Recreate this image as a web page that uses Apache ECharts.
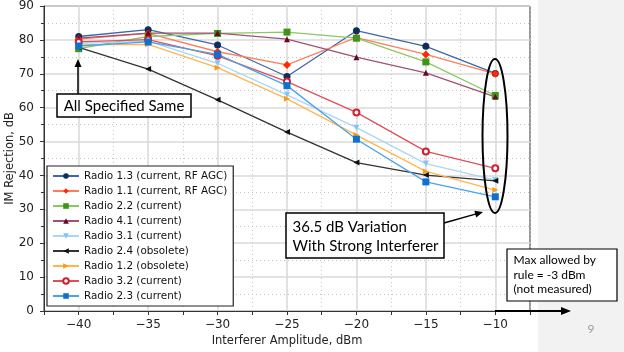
<!DOCTYPE html>
<html>
<head>
<meta charset="utf-8">
<script src="https://cdn.jsdelivr.net/npm/echarts@6/dist/echarts.min.js"></script>
<style>
html,body{margin:0;padding:0;background:#fff;}
#c{width:624px;height:352px;}
</style>
</head>
<body>
<div id="c"></div>
<script>
// ---- data ----
const xValues = [-40, -35, -30, -25, -20, -15, -10];
const yTicks = [0, 10, 20, 30, 40, 50, 60, 70, 80, 90];
const seriesNames = [
  'Radio 1.3 (current, RF AGC)',
  'Radio 1.1 (current, RF AGC)',
  'Radio 2.2 (current)',
  'Radio 4.1 (current)',
  'Radio 3.1 (current)',
  'Radio 2.4 (obsolete)',
  'Radio 1.2 (obsolete)',
  'Radio 3.2 (current)',
  'Radio 2.3 (current)'
];
const r13 = [81.0, 83.0, 78.5, 69.2, 82.7, 78.1, 70.1];
const r11 = [80.2, 81.9, 76.5, 72.6, 80.7, 75.7, 70.0];
const r22 = [77.4, 81.0, 81.9, 82.3, 80.5, 73.5, 63.6];
const r41 = [80.5, 82.0, 82.0, 80.2, 74.9, 70.3, 63.2];
const r31 = [79.0, 79.6, 73.1, 63.8, 54.1, 43.5, 38.6];
const r24 = [77.8, 71.4, 62.3, 52.8, 43.8, 40.1, 38.4];
const r12 = [78.5, 78.7, 71.8, 62.6, 51.9, 41.2, 35.7];
const r32 = [79.4, 80.1, 75.3, 67.7, 58.6, 47.1, 42.1];
const r23 = [78.2, 79.4, 75.7, 66.5, 50.7, 38.1, 33.7];
const allValues = [r13, r11, r22, r41, r31, r24, r12, r32, r23];

// ---- styles ----
const styles = [
  {line: '#3f67a6', mark: '#0f2c5c', symbol: 'circle', size: 7, rot: 0},
  {line: '#ff7d5a', mark: '#ff2a00', symbol: 'diamond', size: 8, rot: 0},
  {line: '#8cc862', mark: '#3d9417', symbol: 'rect', size: 7, rot: 0},
  {line: '#a05272', mark: '#66091f', symbol: 'triangle', size: 6, rot: 0},
  {line: '#a9d5f7', mark: '#85c3f2', symbol: 'triangle', size: 6, rot: 180},
  {line: '#333333', mark: '#111111', symbol: 'triangle', size: 6, rot: 90},
  {line: '#ffb64f', mark: '#ff9a10', symbol: 'triangle', size: 6, rot: -90},
  {line: '#e0505a', mark: '#d0202e', symbol: 'emptyCircle', size: 6, rot: 0},
  {line: '#4aa3ea', mark: '#1070d0', symbol: 'rect', size: 7, rot: 0}
];

const chart = echarts.init(document.getElementById('c'), null, {renderer: 'canvas'});
const minus = s => String(s).replace('-', '\u2212');

const series = [{
  type: 'line', name: '_grid', data: [], z: 1, silent: true,
  markLine: {
    z: 1, silent: true, symbol: 'none', label: {show: false},
    lineStyle: {color: '#dadada', type: 'solid', width: 1.5},
    data: xValues.map(v => ({xAxis: v}))
  }
}];
seriesNames.forEach((n, i) => {
  const s = styles[i];
  const empty = s.symbol === 'emptyCircle';
  series.push({
    type: 'line', name: n, z: 10,
    data: xValues.map((x, j) => [x, allValues[i][j]]),
    symbol: s.symbol, symbolSize: s.size, symbolRotate: s.rot,
    lineStyle: {color: s.line, width: 1.3},
    itemStyle: empty ? {color: s.mark, borderColor: s.mark, borderWidth: 1.6} : {color: s.mark},
    emphasis: {disabled: true},
    animation: false
  });
});

function arrow(x1, y1, x2, y2, w, hl, hw) {
  const dx = x2 - x1, dy = y2 - y1, L = Math.hypot(dx, dy);
  const ux = dx / L, uy = dy / L, px = -uy, py = ux;
  const bx = x2 - ux * hl, by = y2 - uy * hl;
  return [
    {type: 'polyline', z: 100, shape: {points: [[x1, y1], [bx + ux, by + uy]]}, style: {stroke: '#000', lineWidth: w}},
    {type: 'polygon', z: 100, shape: {points: [[x2, y2], [bx + px * hw, by + py * hw], [bx - px * hw, by - py * hw]]}, style: {fill: '#000'}}
  ];
}

const annoFont = 'Lato, "Liberation Sans", sans-serif';
const graphics = [
  {type: 'rect', z: -10, silent: true, shape: {x: 538, y: 0, width: 86, height: 352}, style: {fill: '#f2f2f2'}},
  {type: 'text', z: 100, style: {x: 591, y: 329, text: '9', fill: '#9a9a9a', font: '12px ' + annoFont, textAlign: 'center', textVerticalAlign: 'middle'}},
  // All specified same
  ...arrow(78, 94, 78, 59, 1.5, 8, 3.5),
  {type: 'rect', z: 100, shape: {x: 57, y: 94, width: 134, height: 23}, style: {fill: '#fff', stroke: '#000', lineWidth: 1.5}},
  {type: 'text', z: 101, style: {x: 124, y: 106, text: 'All Specified Same', fill: '#000', font: '15px ' + annoFont, textAlign: 'center', textVerticalAlign: 'middle'}},
  // ellipse
  {type: 'ellipse', z: 100, shape: {cx: 495, cy: 136, rx: 12.5, ry: 77}, style: {fill: null, stroke: '#000', lineWidth: 2}},
  // variation box
  ...arrow(444, 223, 483, 212, 1.5, 8, 3.5),
  {type: 'rect', z: 100, shape: {x: 286, y: 213, width: 158, height: 45}, style: {fill: '#fff', stroke: '#000', lineWidth: 1.5}},
  {type: 'text', z: 101, style: {x: 292.5, y: 227, text: '36.5 dB Variation', fill: '#000', font: '15px ' + annoFont, textAlign: 'left', textVerticalAlign: 'middle'}},
  {type: 'text', z: 101, style: {x: 292.5, y: 246, text: 'With Strong Interferer', fill: '#000', font: '15px ' + annoFont, textAlign: 'left', textVerticalAlign: 'middle'}},
  // max allowed box
  ...arrow(495, 311, 571, 311, 2, 10, 4),
  {type: 'rect', z: 100, shape: {x: 507, y: 249, width: 110, height: 52}, style: {fill: '#fff', stroke: '#000', lineWidth: 1.2}},
  {type: 'text', z: 101, style: {x: 513.5, y: 260.5, text: 'Max allowed by', fill: '#000', font: '12px ' + annoFont, textAlign: 'left', textVerticalAlign: 'middle'}},
  {type: 'text', z: 101, style: {x: 513.5, y: 275, text: 'rule = -3 dBm', fill: '#000', font: '12px ' + annoFont, textAlign: 'left', textVerticalAlign: 'middle'}},
  {type: 'text', z: 101, style: {x: 513.5, y: 289.5, text: '(not measured)', fill: '#000', font: '12px ' + annoFont, textAlign: 'left', textVerticalAlign: 'middle'}}
];

const axisFont = '"DejaVu Sans", Verdana, sans-serif';
chart.setOption({
  backgroundColor: '#ffffff',
  animation: false,
  grid: {left: 44, right: 94, top: 6, bottom: 41, containLabel: false, outerBoundsMode: 'none',
    show: true, borderColor: '#333', borderWidth: 1, backgroundColor: 'transparent'},
  legend: {
    data: seriesNames, orient: 'vertical', left: 47, top: 166,
    backgroundColor: '#fff', borderColor: '#222', borderWidth: 1.2,
    padding: [4, 6, 4, 5], itemWidth: 26, itemHeight: 7, itemGap: 3,
    textStyle: {fontFamily: axisFont, fontSize: 10.4, color: '#111', lineHeight: 12},
    selectedMode: false
  },
  xAxis: {
    type: 'value', min: -42.5, max: -7.5, interval: 2.5,
    name: 'Interferer Amplitude, dBm', nameLocation: 'middle', nameGap: 24, nameMoveOverlap: false,
    nameTextStyle: {fontFamily: axisFont, fontSize: 11.5, color: '#222'},
    axisLine: {onZero: false, lineStyle: {color: '#333', width: 1}},
    axisTick: {show: true, inside: false, length: 4, lineStyle: {color: '#333'}},
    axisLabel: {margin: 8, fontFamily: axisFont, fontSize: 12, color: '#222',
      formatter: v => (Math.abs(v % 5) < 1e-9 ? minus(v) : '')},
    splitLine: {show: true, lineStyle: {color: '#c4c4c4', type: [1, 3], width: 1}}
  },
  yAxis: {
    type: 'value', min: yTicks[0], max: yTicks[yTicks.length - 1], interval: 10,
    name: 'IM Rejection, dB', nameLocation: 'middle', nameGap: 28, nameMoveOverlap: false,
    nameTextStyle: {fontFamily: axisFont, fontSize: 11.5, color: '#222'},
    axisLine: {show: true, lineStyle: {color: '#333', width: 1}},
    axisTick: {show: true, inside: false, length: 4, lineStyle: {color: '#333'}},
    minorTick: {show: true, splitNumber: 2, length: 3, lineStyle: {color: '#333'}},
    axisLabel: {margin: 10, fontFamily: axisFont, fontSize: 12, color: '#222'},
    splitLine: {show: true, lineStyle: {color: '#dadada', width: 1.5}},
    minorSplitLine: {show: true, lineStyle: {color: '#c4c4c4', type: [1, 3], width: 1}}
  },
  series: series,
  graphic: graphics
});
</script>
</body>
</html>
